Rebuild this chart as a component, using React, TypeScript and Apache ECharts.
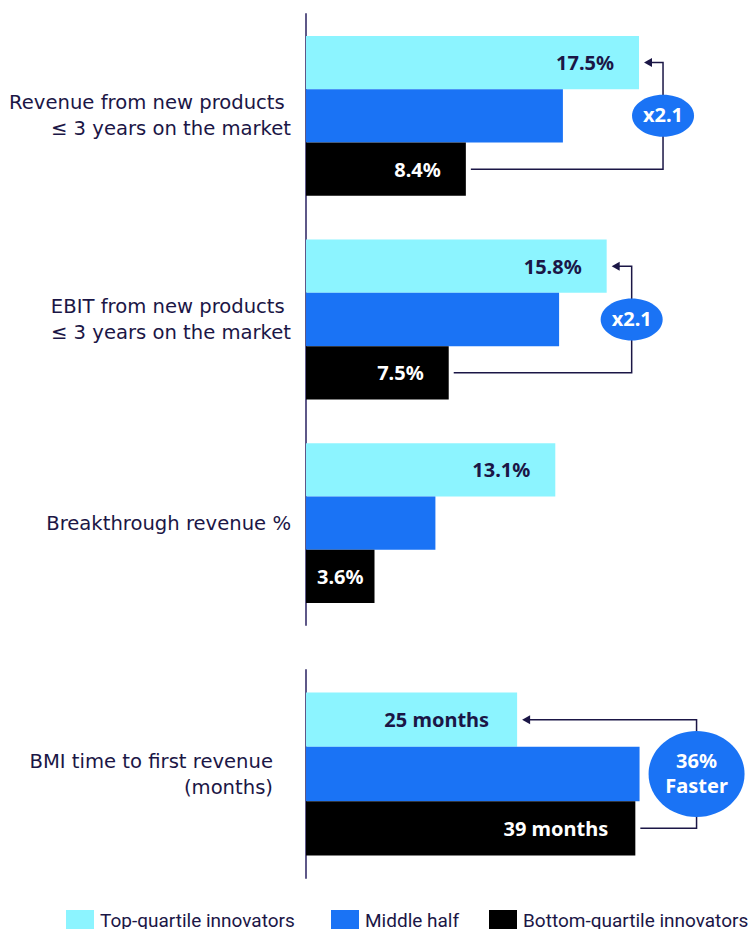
import React, { useEffect, useRef } from "react";
import * as echarts from "echarts";

const categoriesTop = [
  "Revenue from new products \n≤ 3 years on the market",
  "EBIT from new products \n≤ 3 years on the market",
  "Breakthrough revenue %",
];
const categoriesBottom = ["BMI time to first revenue\n(months)"];
const seriesNames = ["Top-quartile innovators", "Middle half", "Bottom-quartile innovators"];
const topQuartilePct = [17.5, 15.8, 13.1];
const middleHalfPct = [13.5, 13.3, 6.8];
const bottomQuartilePct = [8.4, 7.5, 3.6];
const topQuartileMonths = [25];
const middleHalfMonths = [39.5];
const bottomQuartileMonths = [39];
const multiplierLabels = ["x2.1", "x2.1"];
const speedupLabel = "36%\nFaster";

const CYAN = "#8CF4FF";
const BLUE = "#1A73F5";
const BLACK = "#000000";
const NAVY = "#1B1646";
const AXIS = "#5E5888";
const FONT = '"Noto Sans", sans-serif';
const LABEL_FONT = '"DejaVu Sans", sans-serif';
const LEGEND_FONT = 'Roboto, sans-serif';

const BAR_W_TOP = 53.3;
const BAR_W_BOTTOM = 54.3;
const LEGEND_LEFTS = [66, 331, 489];

export default function App() {
  const ref = useRef<HTMLDivElement>(null);
  useEffect(() => {
    document.body.style.margin = "0";
    const chart = echarts.init(ref.current!, null, { renderer: "svg" });

    const valueLabel = (color: string, suffix: string) => ({
      show: true,
      position: "insideRight",
      distance: 25,
      color,
      fontFamily: FONT,
      fontWeight: "bold",
      fontSize: 20,
      formatter: (p: any) => `${p.value}${suffix}`,
    });
    const withSmallInside = (vals: number[]) =>
      vals.map((v) => (v < 5 ? { value: v, label: { position: "inside" } } : v));

    const yAxisBase = {
      type: "category",
      inverse: true,
      axisTick: { show: false },
      axisLine: { show: true, lineStyle: { color: AXIS, width: 2 } },
      axisLabel: {
        color: NAVY,
        fontFamily: LABEL_FONT,
        fontSize: 19.6,
        lineHeight: 26,
        align: "right",
      },
    };
    const xAxisBase = {
      type: "value",
      min: 0,
      show: false,
      splitLine: { show: false },
    };

    const option: any = {
      animation: false,
      textStyle: { fontFamily: FONT },
      grid: [
        { left: 306, top: 14, height: 611, width: 380.6 },
        { left: 306, top: 670, height: 208, width: 380 },
      ],
      xAxis: [
        { ...xAxisBase, gridIndex: 0, max: 20 },
        { ...xAxisBase, gridIndex: 1, max: 45 },
      ],
      yAxis: [
        { ...yAxisBase, gridIndex: 0, data: categoriesTop, axisLabel: { ...yAxisBase.axisLabel, margin: 15 } },
        { ...yAxisBase, gridIndex: 1, data: categoriesBottom, axisLabel: { ...yAxisBase.axisLabel, margin: 33 } },
      ],
      legend: seriesNames.map((name, i) => ({
        left: LEGEND_LEFTS[i],
        top: 910,
        padding: 0,
        itemWidth: 28,
        itemHeight: 20,
        icon: "rect",
        data: [name],
        textStyle: { color: NAVY, fontFamily: LEGEND_FONT, fontSize: 19, padding: [0, 0, 0, 1] },
      })),
      series: [
        {
          name: seriesNames[0], type: "bar", xAxisIndex: 0, yAxisIndex: 0,
          barWidth: BAR_W_TOP, barGap: "0%", itemStyle: { color: CYAN },
          label: valueLabel(NAVY, "%"), data: withSmallInside(topQuartilePct),
        },
        {
          name: seriesNames[1], type: "bar", xAxisIndex: 0, yAxisIndex: 0,
          barWidth: BAR_W_TOP, barGap: "0%", itemStyle: { color: BLUE },
          data: middleHalfPct,
        },
        {
          name: seriesNames[2], type: "bar", xAxisIndex: 0, yAxisIndex: 0,
          barWidth: BAR_W_TOP, barGap: "0%", itemStyle: { color: BLACK },
          label: valueLabel("#FFFFFF", "%"), data: withSmallInside(bottomQuartilePct),
        },
        {
          name: seriesNames[0], type: "bar", xAxisIndex: 1, yAxisIndex: 1,
          barWidth: BAR_W_BOTTOM, barGap: "0%", itemStyle: { color: CYAN },
          label: { ...valueLabel(NAVY, " months"), distance: 28 }, data: topQuartileMonths,
        },
        {
          name: seriesNames[1], type: "bar", xAxisIndex: 1, yAxisIndex: 1,
          barWidth: BAR_W_BOTTOM, barGap: "0%", itemStyle: { color: BLUE },
          data: middleHalfMonths,
        },
        {
          name: seriesNames[2], type: "bar", xAxisIndex: 1, yAxisIndex: 1,
          barWidth: BAR_W_BOTTOM, barGap: "0%", itemStyle: { color: BLACK },
          label: { ...valueLabel("#FFFFFF", " months"), distance: 27 }, data: bottomQuartileMonths,
        },
      ],
    };
    chart.setOption(option);

    const graphics: any[] = [];
    const addAnno = (
      g: number, cat: number, topVal: number, botVal: number, vxRef: number, vxOffset: number,
      barW: number, text: string, rx: number, ry: number, fontSize: number, lineHeight: number
    ) => {
      const finder = { xAxisIndex: g, yAxisIndex: g };
      const [topX, yc] = chart.convertToPixel(finder, [topVal, cat]) as number[];
      const [botX] = chart.convertToPixel(finder, [botVal, cat]) as number[];
      const [refX] = chart.convertToPixel(finder, [vxRef, cat]) as number[];
      const yTop = yc - barW;
      const yBot = yc + barW;
      const vx = refX + vxOffset;
      const tipX = topX + 5;
      graphics.push({
        type: "polyline",
        z: 10,
        shape: { points: [[botX + 5, yBot], [vx, yBot], [vx, yTop], [tipX + 6, yTop]] },
        style: { stroke: NAVY, lineWidth: 1.5, fill: null },
      });
      graphics.push({
        type: "polygon",
        z: 10,
        shape: { points: [[tipX, yTop], [tipX + 8, yTop - 4.5], [tipX + 8, yTop + 4.5]] },
        style: { fill: NAVY },
      });
      graphics.push({
        type: "ellipse",
        z: 11,
        shape: { cx: vx, cy: yc, rx, ry },
        style: { fill: BLUE },
      });
      const lines = text.split("\n");
      lines.forEach((line, i) => {
        graphics.push({
          type: "text",
          z: 12,
          x: vx,
          y: yc - 1 + (i - (lines.length - 1) / 2) * lineHeight,
          style: {
            text: line,
            x: 0,
            y: 0,
            align: "center",
            verticalAlign: "middle",
            fill: "#FFFFFF",
            fontFamily: FONT,
            fontWeight: "bold",
            fontSize,
            lineHeight: fontSize,
          },
        });
      });
    };
    addAnno(0, 0, topQuartilePct[0], bottomQuartilePct[0], topQuartilePct[0], 24, BAR_W_TOP, multiplierLabels[0], 31, 21, 20, 24);
    addAnno(0, 1, topQuartilePct[1], bottomQuartilePct[1], topQuartilePct[1], 25, BAR_W_TOP, multiplierLabels[1], 31, 21, 20, 24);
    addAnno(1, 0, topQuartileMonths[0], bottomQuartileMonths[0], middleHalfMonths[0], 57, BAR_W_BOTTOM, speedupLabel, 48, 43, 20, 25);
    chart.setOption({ graphic: graphics });

    return () => chart.dispose();
  }, []);
  return <div ref={ref} style={{ width: 752, height: 929 }} />;
}
